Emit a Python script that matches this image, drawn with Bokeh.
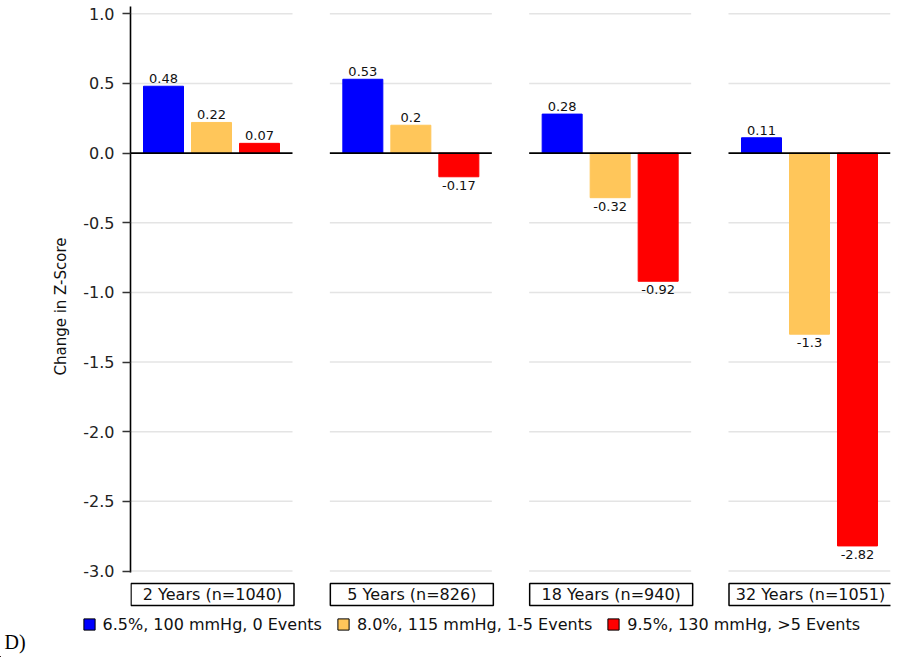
from bokeh.plotting import figure
from bokeh.layouts import column, row
from bokeh.models import ColumnDataSource, Range1d, FixedTicker, Legend, LegendItem
from bokeh.core.properties import value
from bokeh.embed import file_html
from bokeh.resources import INLINE

# ---------------- data ----------------
panels = ["2 Years (n=1040)", "5 Years (n=826)", "18 Years (n=940)", "32 Years (n=1051)"]
series = ["6.5%, 100 mmHg, 0 Events", "8.0%, 115 mmHg, 1-5 Events", "9.5%, 130 mmHg, >5 Events"]
low_risk = [0.48, 0.53, 0.28, 0.11]
mid_risk = [0.22, 0.20, -0.32, -1.30]
high_risk = [0.07, -0.17, -0.92, -2.82]
y_ticks = [1.0, 0.5, 0.0, -0.5, -1.0, -1.5, -2.0, -2.5, -3.0]
colors = ["#0000ff", "#ffc65a", "#ff0000"]
y_label = "Change in Z-Score"
panel_tag = "D)"

# ---------------- layout constants ----------------
W = 898
H_MAIN, H_FOOT = 612, 45
LEFT, RIGHT = 130, 8
FRAME_W = W - LEFT - RIGHT
PW = 162                       # panel width (px == data units on x)
PITCH = (FRAME_W - PW) / 3
BAR_W, BAR_STEP = 40, 48
PX = 139.3                     # pixels per z-score unit
Y_TOP = 1.0 + 13.3 / PX
Y_BOT = Y_TOP - H_MAIN / PX
FONT = "DejaVu Sans"


def ypage(py):
    """page-pixel row -> data y (main figure)"""
    return Y_TOP - py / PX


p = figure(width=W, height=H_MAIN, output_backend="svg", toolbar_location=None,
           x_range=Range1d(0, FRAME_W), y_range=Range1d(Y_BOT, Y_TOP),
           x_axis_location=None, min_border_left=LEFT, min_border_right=RIGHT,
           min_border_top=0, min_border_bottom=0)
p.xgrid.visible = False
p.ygrid.visible = False
p.outline_line_color = None

# panel gridlines
gx0, gx1, gy = [], [], []
for i in range(len(panels)):
    left = i * PITCH
    for t in y_ticks:
        if t == 0.0:
            continue
        gx0.append(left)
        gx1.append(left + PW)
        gy.append(t)
p.segment(x0=gx0, x1=gx1, y0=gy, y1=gy, line_color="#e4e4e4", line_width=1.5)

# bars
all_vals = [low_risk, mid_risk, high_risk]
bx, btop, bcol, blab, bbase, boff = [], [], [], [], [], []
for j, vals in enumerate(all_vals):
    for i, v in enumerate(vals):
        bx.append(i * PITCH + PW / 2 + (j - 1) * BAR_STEP)
        btop.append(v)
        bcol.append(colors[j])
        blab.append(f"{v:g}")
        bbase.append("bottom" if v >= 0 else "top")
        boff.append(-3 if v >= 0 else 4)
src = ColumnDataSource(dict(x=bx, top=btop, color=bcol, lab=blab, base=bbase, off=boff))
p.vbar(x="x", top="top", bottom=0, width=BAR_W, source=src,
       fill_color="color", line_color="color", line_width=1)
p.text(x="x", y="top", text="lab", source=src, text_align="center",
       text_baseline="base", y_offset="off", text_font=value(FONT),
       text_font_size="13px", text_color="#111111")

# zero lines
zx0 = [i * PITCH for i in range(len(panels))]
zx1 = [i * PITCH + PW for i in range(len(panels))]
p.segment(x0=zx0, x1=zx1, y0=[0] * len(panels), y1=[0] * len(panels),
          line_color="black", line_width=1.6)

# strip labels below panels
sx = [i * PITCH + PW / 2 + 1 for i in range(len(panels))]
strip = ColumnDataSource(dict(x=sx, y=[ypage(594)] * len(panels), lab=panels))
p.rect(x="x", y="y", width=PW + 1, height=22 / PX, source=strip,
       fill_color="white", line_color="black", line_width=1.5)
p.text(x="x", y="y", text="lab", source=strip, text_align="center",
       text_baseline="middle", text_font=value(FONT), text_font_size="16px",
       text_color="#111111")

# y axis
ax = p.yaxis[0]
ax.ticker = FixedTicker(ticks=y_ticks)
ax.major_label_overrides = {t: f"{t:.1f}" for t in y_ticks}
ax.bounds = (ypage(572), ypage(6))
ax.axis_line_color = "black"
ax.axis_line_width = 1.6
ax.major_tick_line_color = "#333333"
ax.major_tick_line_width = 1.5
ax.major_tick_out = 8
ax.major_tick_in = 0
ax.minor_tick_out = 0
ax.minor_tick_in = 0
ax.major_label_standoff = 8
ax.major_label_text_font = FONT
ax.major_label_text_font_size = "16px"
ax.major_label_text_color = "#222222"
ax.axis_label = y_label
ax.axis_label_text_font = FONT
ax.axis_label_text_font_size = "15px"
ax.axis_label_text_font_style = "normal"
ax.axis_label_text_color = "#111111"
ax.axis_label_standoff = 10

# ---------------- footer: legend + panel tag ----------------
f = figure(width=W, height=H_FOOT, output_backend="svg", toolbar_location=None,
           x_range=Range1d(0, W), y_range=Range1d(0, H_FOOT),
           x_axis_location=None, y_axis_location=None,
           min_border_left=0, min_border_right=0, min_border_top=0, min_border_bottom=0)
f.xgrid.visible = False
f.ygrid.visible = False
f.outline_line_color = None

items = []
for j, name in enumerate(series):
    # legend swatch renderer, kept outside the visible range
    r = f.vbar(x=[-100], top=[1], bottom=0, width=1, fill_color=colors[j],
               line_color="black", line_width=1)
    items.append(LegendItem(label=name, renderers=[r]))
legend = Legend(items=items, orientation="horizontal", location=(81.5, 23.5),
                glyph_width=14, glyph_height=14, label_standoff=7, spacing=14,
                padding=0, margin=0, border_line_alpha=0, background_fill_alpha=0,
                label_text_font=FONT, label_text_font_size="16px",
                label_text_color="#111111")
f.add_layout(legend)

f.text(x=[4], y=[16], text=[panel_tag],
       text_font=value("Liberation Serif"), text_font_size="20px",
       text_baseline="middle", text_color="black")

layout = column(p, row(f), spacing=0)
open("out.html", "w").write(file_html(layout, INLINE))
